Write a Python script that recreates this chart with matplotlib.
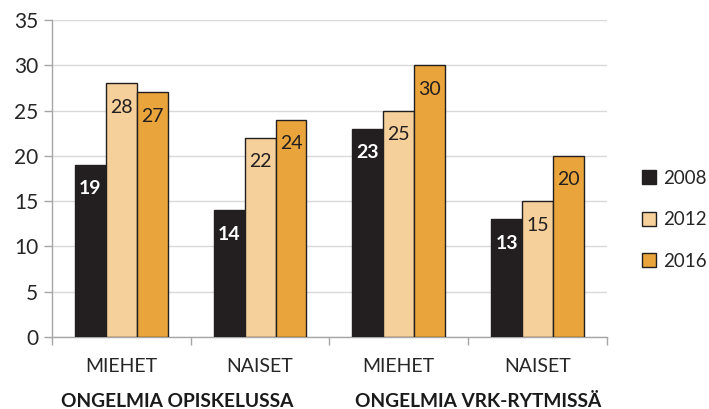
import numpy as np
import matplotlib.pyplot as plt

plt.rcParams['font.family'] = ['Lato', 'DejaVu Sans']

groups = ['MIEHET', 'NAISET', 'MIEHET', 'NAISET']
topics = ['ONGELMIA OPISKELUSSA', 'ONGELMIA VRK-RYTMISSÄ']
years = ['2008', '2012', '2016']
v2008 = [19, 14, 23, 13]
v2012 = [28, 22, 25, 15]
v2016 = [27, 24, 30, 20]

series = [v2008, v2012, v2016]
colors = ['#231f20', '#f6d09b', '#e9a53b']
label_colors = ['white', '#231f20', '#231f20']
label_weights = ['bold', 'normal', 'normal']
text_col = '#262626'

fig = plt.figure(figsize=(7.09, 4.09), dpi=100)
ax = fig.add_axes([0.0733, 0.176, 0.7827, 0.775])

x = np.arange(len(groups))
w = 0.223
for i, vals in enumerate(series):
    pos = x + (i - 1) * w
    bars = ax.bar(pos, vals, width=w, color=colors[i], edgecolor='#231f20',
                  linewidth=1.0, label=years[i], zorder=3)
    for b, v in zip(bars, vals):
        ax.annotate(str(v), (b.get_x() + b.get_width() / 2, v),
                    xytext=(0, -24), textcoords='offset pixels',
                    ha='center', va='center', fontsize=14,
                    color=label_colors[i], fontweight=label_weights[i],
                    zorder=4)

ax.set_xlim(-0.5, len(groups) - 0.5)
ax.set_ylim(0, 35)
ax.set_yticks(range(0, 36, 5))
ax.yaxis.grid(True, color='#d9d9d9', linewidth=1, zorder=0)
ax.tick_params(axis='y', labelsize=15, colors='#a6a6a6', labelcolor=text_col,
               length=6, width=1, pad=4)

# boundary ticks between categories, labels placed as separate text
ax.set_xticks(np.arange(-0.5, len(groups), 1.0))
ax.set_xticklabels([])
ax.tick_params(axis='x', colors='#a6a6a6', length=6, width=1)
for xi, g in zip(x, groups):
    ax.text(xi, -0.093, g, transform=ax.get_xaxis_transform(), ha='center',
            va='center', fontsize=14, color=text_col)
for xi, t in zip([0.4, 2.57], topics):
    ax.text(xi, -0.205, t, transform=ax.get_xaxis_transform(), ha='center',
            va='center', fontsize=13.8, fontweight='bold', color='#1a1a1a')

for s in ['top', 'right']:
    ax.spines[s].set_visible(False)
for s in ['left', 'bottom']:
    ax.spines[s].set_color('#a6a6a6')
    ax.spines[s].set_linewidth(1)

ax.legend(loc='center left', bbox_to_anchor=(1.04, 0.37), frameon=False,
          fontsize=13.5, handlelength=0.75, handleheight=0.75, handletextpad=0.35,
          labelspacing=1.3, labelcolor=text_col, borderaxespad=0.3)

fig.savefig('out.png', dpi=100)
